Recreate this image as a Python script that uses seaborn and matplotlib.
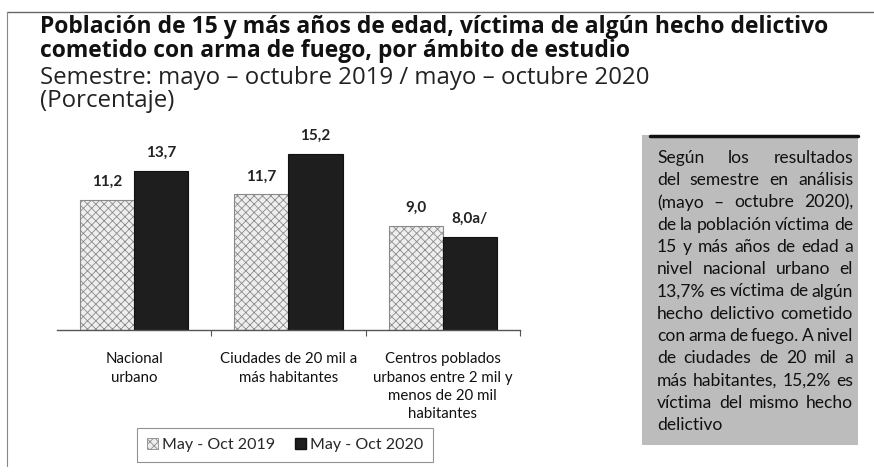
import matplotlib
matplotlib.use("Agg")
import matplotlib.pyplot as plt
import pandas as pd
import seaborn as sns
from matplotlib.lines import Line2D
from matplotlib.patches import Rectangle

# data
categories = ["Nacional\nurbano",
              "Ciudades de 20 mil a\nmás habitantes",
              "Centros poblados\nurbanos entre 2 mil y\nmenos de 20 mil\nhabitantes"]
periods = ["May - Oct 2019", "May - Oct 2020"]
values_2019 = [11.2, 11.7, 9.0]
values_2020 = [13.7, 15.2, 8.0]
labels_2019 = ["11,2", "11,7", "9,0"]
labels_2020 = ["13,7", "15,2", "8,0a/"]

title_lines = ["Población de 15 y más años de edad, víctima de algún hecho delictivo",
               "cometido con arma de fuego, por ámbito de estudio"]
subtitle_lines = ["Semestre: mayo – octubre 2019 / mayo – octubre 2020",
                  "(Porcentaje)"]
note_lines = ["Según los resultados",
              "del semestre en análisis",
              "(mayo – octubre 2020),",
              "de la población víctima de",
              "15 y más años de edad a",
              "nivel nacional urbano el",
              "13,7% es víctima de algún",
              "hecho delictivo cometido",
              "con arma de fuego. A nivel",
              "de ciudades de 20 mil a",
              "más habitantes, 15,2% es",
              "víctima del mismo hecho",
              "delictivo"]

df = pd.DataFrame({
    "ambito": categories * 2,
    "periodo": [periods[0]] * 3 + [periods[1]] * 3,
    "valor": values_2019 + values_2020,
})

sns.set_theme(style="white")
plt.rcParams["font.family"] = ["Lato", "DejaVu Sans"]
plt.rcParams["hatch.linewidth"] = 0.6

W, H = 874, 476
fig = plt.figure(figsize=(W / 100, H / 100), dpi=100, facecolor="white")
ax = fig.add_axes([57 / W, 146 / H, 463 / W, 197 / H])

sns.barplot(data=df, x="ambito", y="valor", hue="periodo",
            palette=["#eeeeee", "#1e1e1e"], width=0.7, gap=0,
            edgecolor="#333333", linewidth=0.8, legend=False, ax=ax)

light, dark = ax.containers[0], ax.containers[1]
for p in light:
    p.set_hatch("xxxx")
    p.set_edgecolor("#8a8a8a")
for p in dark:
    p.set_edgecolor("#111111")

ax.bar_label(light, labels=labels_2019, padding=8, fontsize=11,
             fontweight="bold", color="#222222")
ax.bar_label(dark, labels=labels_2020, padding=8, fontsize=11,
             fontweight="bold", color="#222222")

ax.set_ylim(0, 17)
ax.set_xlim(-0.5, 2.5)
ax.set_yticks([])
ax.set_xlabel("")
ax.set_ylabel("")
for s in ["top", "right", "left"]:
    ax.spines[s].set_visible(False)
ax.spines["bottom"].set_color("#555555")
ax.spines["bottom"].set_linewidth(1.0)
ax.set_xticks([0.5, 1.5, 2.5], minor=True)
ax.tick_params(axis="x", which="minor", bottom=True, direction="out",
               length=4, width=0.8, color="#555555")
ax.tick_params(axis="x", which="major", bottom=False, pad=10)
ax.set_xticks(range(3))
ax.set_xticklabels(categories, fontsize=10.8, color="#111111",
                   linespacing=1.4, va="top")

# legend
handles = [Rectangle((0, 0), 1, 1, facecolor="#eeeeee", edgecolor="#8a8a8a",
                     hatch="xxxx", linewidth=0.6),
           Rectangle((0, 0), 1, 1, facecolor="#1e1e1e", edgecolor="#111111")]
leg = fig.legend(handles, periods, loc="center", ncol=2,
                 bbox_to_anchor=(285 / W, 1 - 445 / H), fontsize=11.5,
                 frameon=True, fancybox=False, edgecolor="#777777",
                 handlelength=0.7, handleheight=0.7, handletextpad=0.25,
                 columnspacing=1.2, borderpad=0.6)
leg.get_frame().set_linewidth(0.8)

# titles
title_font = ["Open Sans", "DejaVu Sans"]
fig.text(40 / W, 1 - 27 / H, title_lines[0], fontsize=16.5, fontweight="bold",
         color="#111111", va="center", family=title_font)
fig.text(40 / W, 1 - 51 / H, title_lines[1], fontsize=16.5, fontweight="bold",
         color="#111111", va="center", family=title_font)
fig.text(40 / W, 1 - 78 / H, subtitle_lines[0], fontsize=17.3,
         color="#222222", va="center", family=title_font)
fig.text(40 / W, 1 - 101 / H, subtitle_lines[1], fontsize=17.3,
         color="#222222", va="center", family=title_font)

# scan frame lines
fig.add_artist(Line2D([7 / W, 1], [1 - 12 / H, 1 - 12 / H], color="#666666", lw=1.0))
fig.add_artist(Line2D([7 / W, 7 / W], [1 - 12 / H, 0.02], color="#888888", lw=0.8))

# note box on the right
fig.add_artist(Rectangle((642 / W, 1 - 445 / H), 216 / W, 310 / H,
                         transform=fig.transFigure, facecolor="#bcbcbc",
                         edgecolor="none"))
fig.add_artist(Line2D([650 / W, 858 / W], [1 - 136 / H, 1 - 136 / H],
                      color="#111111", lw=2.5))

renderer = fig.canvas.get_renderer()
x0, x1 = 657 / W, 853 / W
y0, dy = 1 - 158 / H, 22.25 / H
kw = dict(fontsize=12.6, color="#111111", va="center")
for i, line in enumerate(note_lines):
    y = y0 - i * dy
    words = line.split()
    if i == len(note_lines) - 1 or len(words) == 1:
        fig.text(x0, y, line, **kw)
        continue
    texts = [fig.text(0, y, w, **kw) for w in words]
    widths = [t.get_window_extent(renderer).width / fig.bbox.width for t in texts]
    gap = (x1 - x0 - sum(widths)) / (len(words) - 1)
    x = x0
    for t, w in zip(texts, widths):
        t.set_x(x)
        x += w + gap

fig.savefig("out.png", dpi=100, facecolor="white")
